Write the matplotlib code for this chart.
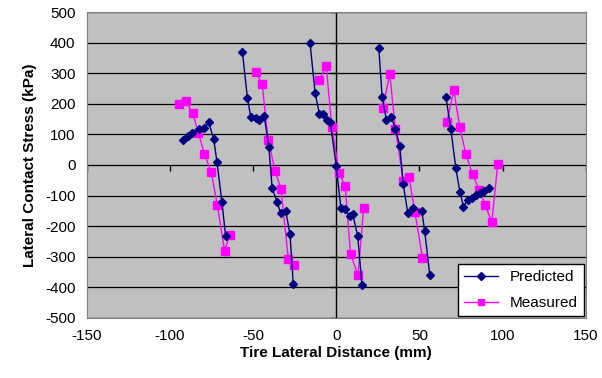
import numpy as np
import matplotlib
matplotlib.use('Agg')
import matplotlib.pyplot as plt

plt.rcParams['font.family'] = ['Liberation Sans', 'DejaVu Sans']
plt.rcParams['axes.unicode_minus'] = False

# Datos (nan separa los grupos de cada pasada)
nan = np.nan
pred_x = [-92.3, -89.2, -86.6, -82.2, -79.2, -76.7, -73.7, -71.7, -68.7, -66.5, nan,
          -56.4, -53.4, -51.4, -48.3, -46.3, -43.3, -40.5, -38.5, -35.6, -33.4, -30.4, -27.8, -25.8, nan,
          -15.7, -12.7, -10.1, -8.0, -5.3, -3.6, 0.0, 2.8, 5.0, 8.0, 9.9, 12.9, 15.5, nan,
          25.6, 27.6, 30.2, 33.2, 35.6, 38.2, 40.3, 43.0, 46.1, 51.4, 53.2, 56.2, nan,
          65.9, 68.9, 71.9, 74.3, 76.5, 79.0, 81.4, 84.0, 86.6, 89.0, 92.0]
pred_y = [82, 95, 106, 117, 120, 140, 86, 11, -122, -232, nan,
          370, 220, 158, 155, 147, 160, 60, -76, -120, -158, -150, -226, -390, nan,
          398, 236, 167, 167, 147, 141, -3, -140, -144, -166, -161, -231, -394, nan,
          383, 223, 147, 156, 118, 63, -63, -156, -142, -150, -216, -359, nan,
          223, 118, -10, -87, -136, -114, -109, -98, -93, -85, -76]

meas_x = [-94.3, -90.6, -86.2, -82.8, -79.2, -75.1, -71.5, -67.1, -64.0, nan,
          -48.3, -44.5, -40.9, -36.7, -33.2, -28.8, -25.4, nan,
          -10.3, -6.0, -2.6, 1.8, 5.4, 8.6, 13.1, 16.5, nan,
          28.0, 32.2, 35.6, 40.3, 43.7, 47.3, 51.8, nan,
          66.5, 70.7, 74.3, 77.9, 82.0, 86.0, 89.6, 93.5, 97.1]
meas_y = [199, 210, 169, 104, 36, -24, -130, -281, -229, nan,
          305, 264, 82, -21, -77, -307, -327, nan,
          278, 323, 123, -27, -69, -292, -360, -142, nan,
          187, 297, 117, -51, -38, -153, -303, nan,
          140, 245, 123, 36, -31, -82, -131, -187, 2]

x_ticks = np.arange(-150, 151, 50)
y_ticks = np.arange(-500, 501, 100)

fig = plt.figure(figsize=(6.02, 3.78), dpi=100)
ax = fig.add_axes([0.144, 0.1595, 0.829, 0.808])
ax.set_facecolor('#C0C0C0')

# lineas de rejilla horizontales
for yv in y_ticks:
    ax.axhline(yv, color='black', lw=0.9, zorder=1)
ax.axvline(0, color='black', lw=1.0, zorder=1)

# marcas de los ejes que cruzan en cero
ax.plot(x_ticks, np.zeros(len(x_ticks)), ls='none', marker=3, ms=4, color='black',
        markeredgewidth=1, zorder=1)
ax.plot(np.zeros(len(y_ticks)), y_ticks, ls='none', marker=0, ms=4, color='black',
        markeredgewidth=1, zorder=1)

ax.plot(pred_x, pred_y, '-D', color='#000080', lw=1, ms=4.5, label='Predicted', zorder=3)
ax.plot(meas_x, meas_y, '-s', color='#FF00FF', lw=1, ms=5.5, label='Measured', zorder=2)

ax.set_xlim(-150, 150)
ax.set_ylim(-500, 500)
ax.set_xticks(x_ticks)
ax.set_yticks(y_ticks)
ax.tick_params(length=0, labelsize=11, pad=8)
for s in ax.spines.values():
    s.set_color('#808080')

ax.set_xlabel('Tire Lateral Distance (mm)', fontsize=11, fontweight='bold', labelpad=2)
ax.set_ylabel('Lateral Contact Stress (kPa)', fontsize=11, fontweight='bold', labelpad=6)

leg = ax.legend(loc='lower right', fontsize=11, frameon=True, fancybox=False,
                edgecolor='black', framealpha=1, borderaxespad=0.1,
                handlelength=2.2, borderpad=0.4, labelspacing=0.8, markerscale=0.8)
leg.get_frame().set_linewidth(1)

fig.savefig('out.png', dpi=100)
